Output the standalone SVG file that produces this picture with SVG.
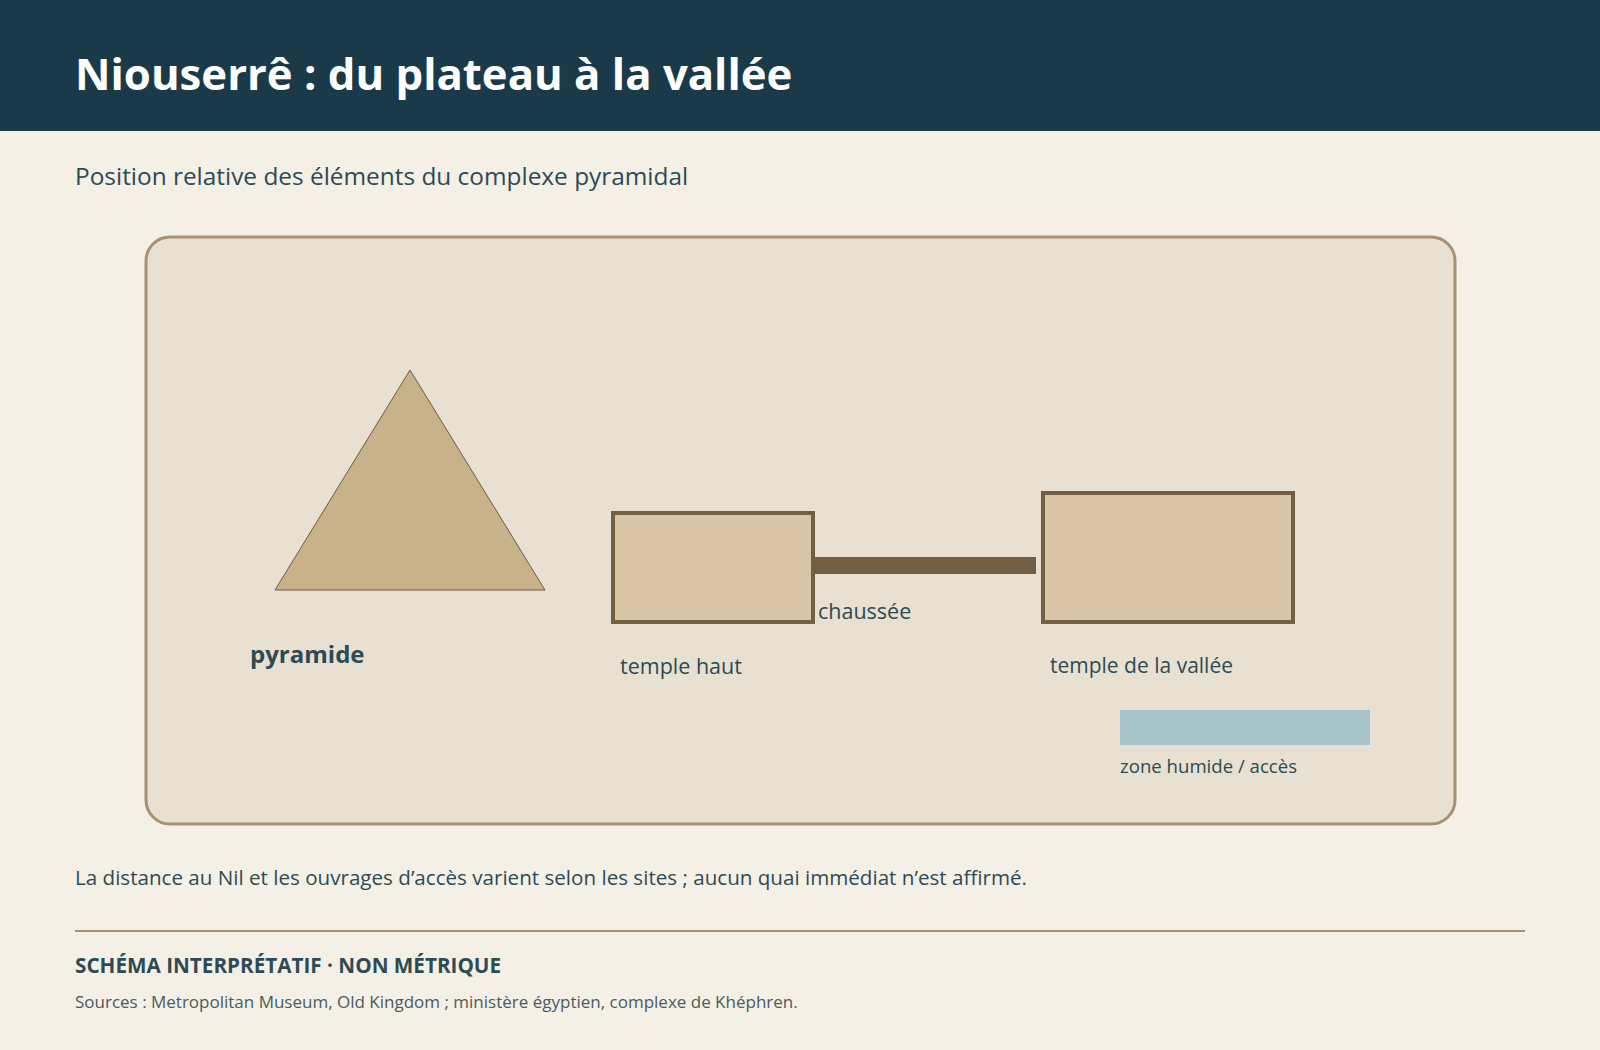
<svg xmlns="http://www.w3.org/2000/svg" width="1600" height="1050" viewBox="0 0 1600 1050">
<style>
text{font-family:"Open Sans","Lato","Liberation Sans",sans-serif;fill:#2d4a55}
.title{font-size:43.7px;font-weight:700;fill:#ffffff}
.sub{font-size:24.4px}
.lbl{font-size:21.5px}
.lblv{font-size:21px}
.lblb{font-size:24px;font-weight:700}
.small{font-size:18.6px}
.note{font-size:20.6px}
.caps{font-size:20.7px;font-weight:700}
.src{font-size:17px;fill:#4a5a60}
.temple{fill:#d9c5a5;stroke:#735f45;stroke-width:4}
</style>
<rect x="0" y="0" width="1600" height="1050" fill="#f5f0e6"/>
<g id="header">
<rect x="0" y="0" width="1600" height="131" fill="#1a3a4a"/>
<text class="title" x="75" y="90">Niouserrê : du plateau à la vallée</text>
</g>
<text class="sub" x="75" y="185">Position relative des éléments du complexe pyramidal</text>
<g id="panel">
<rect x="146" y="237" width="1309" height="587" rx="24" fill="#e8e0d0" stroke="#a69273" stroke-width="3"/>
</g>
<g id="pyramide">
<polygon points="410,370 545,590 275,590" fill="#c8b28a" stroke="#6f5b40" stroke-width="1"/>
<text class="lblb" x="250" y="663">pyramide</text>
</g>
<g id="connectors">
<rect id="chaussee" x="812" y="557" width="224" height="17" fill="#735f45"/>
</g>
<g id="temple-haut">
<rect class="temple" x="613" y="513" width="200" height="109"/>
<text class="lbl" x="620" y="674">temple haut</text>
</g>
<g id="chaussee-label">
<text class="lbl" x="818" y="619">chaussée</text>
</g>
<g id="temple-vallee">
<rect class="temple" x="1043" y="493" width="250" height="129"/>
<text class="lblv" x="1050" y="673">temple de la vallée</text>
</g>
<g id="zone-humide">
<rect x="1120" y="710" width="250" height="35" fill="#a7c4c8"/>
<text class="small" x="1120" y="773">zone humide / accès</text>
</g>
<text class="note" x="75" y="885">La distance au Nil et les ouvrages d’accès varient selon les sites ; aucun quai immédiat n’est affirmé.</text>
<line x1="75" y1="931" x2="1525" y2="931" stroke="#a69273" stroke-width="2"/>
<text class="caps" x="75" y="973">SCHÉMA INTERPRÉTATIF · NON MÉTRIQUE</text>
<text class="src" x="75" y="1008">Sources : Metropolitan Museum, Old Kingdom ; ministère égyptien, complexe de Khéphren.</text>
</svg>
